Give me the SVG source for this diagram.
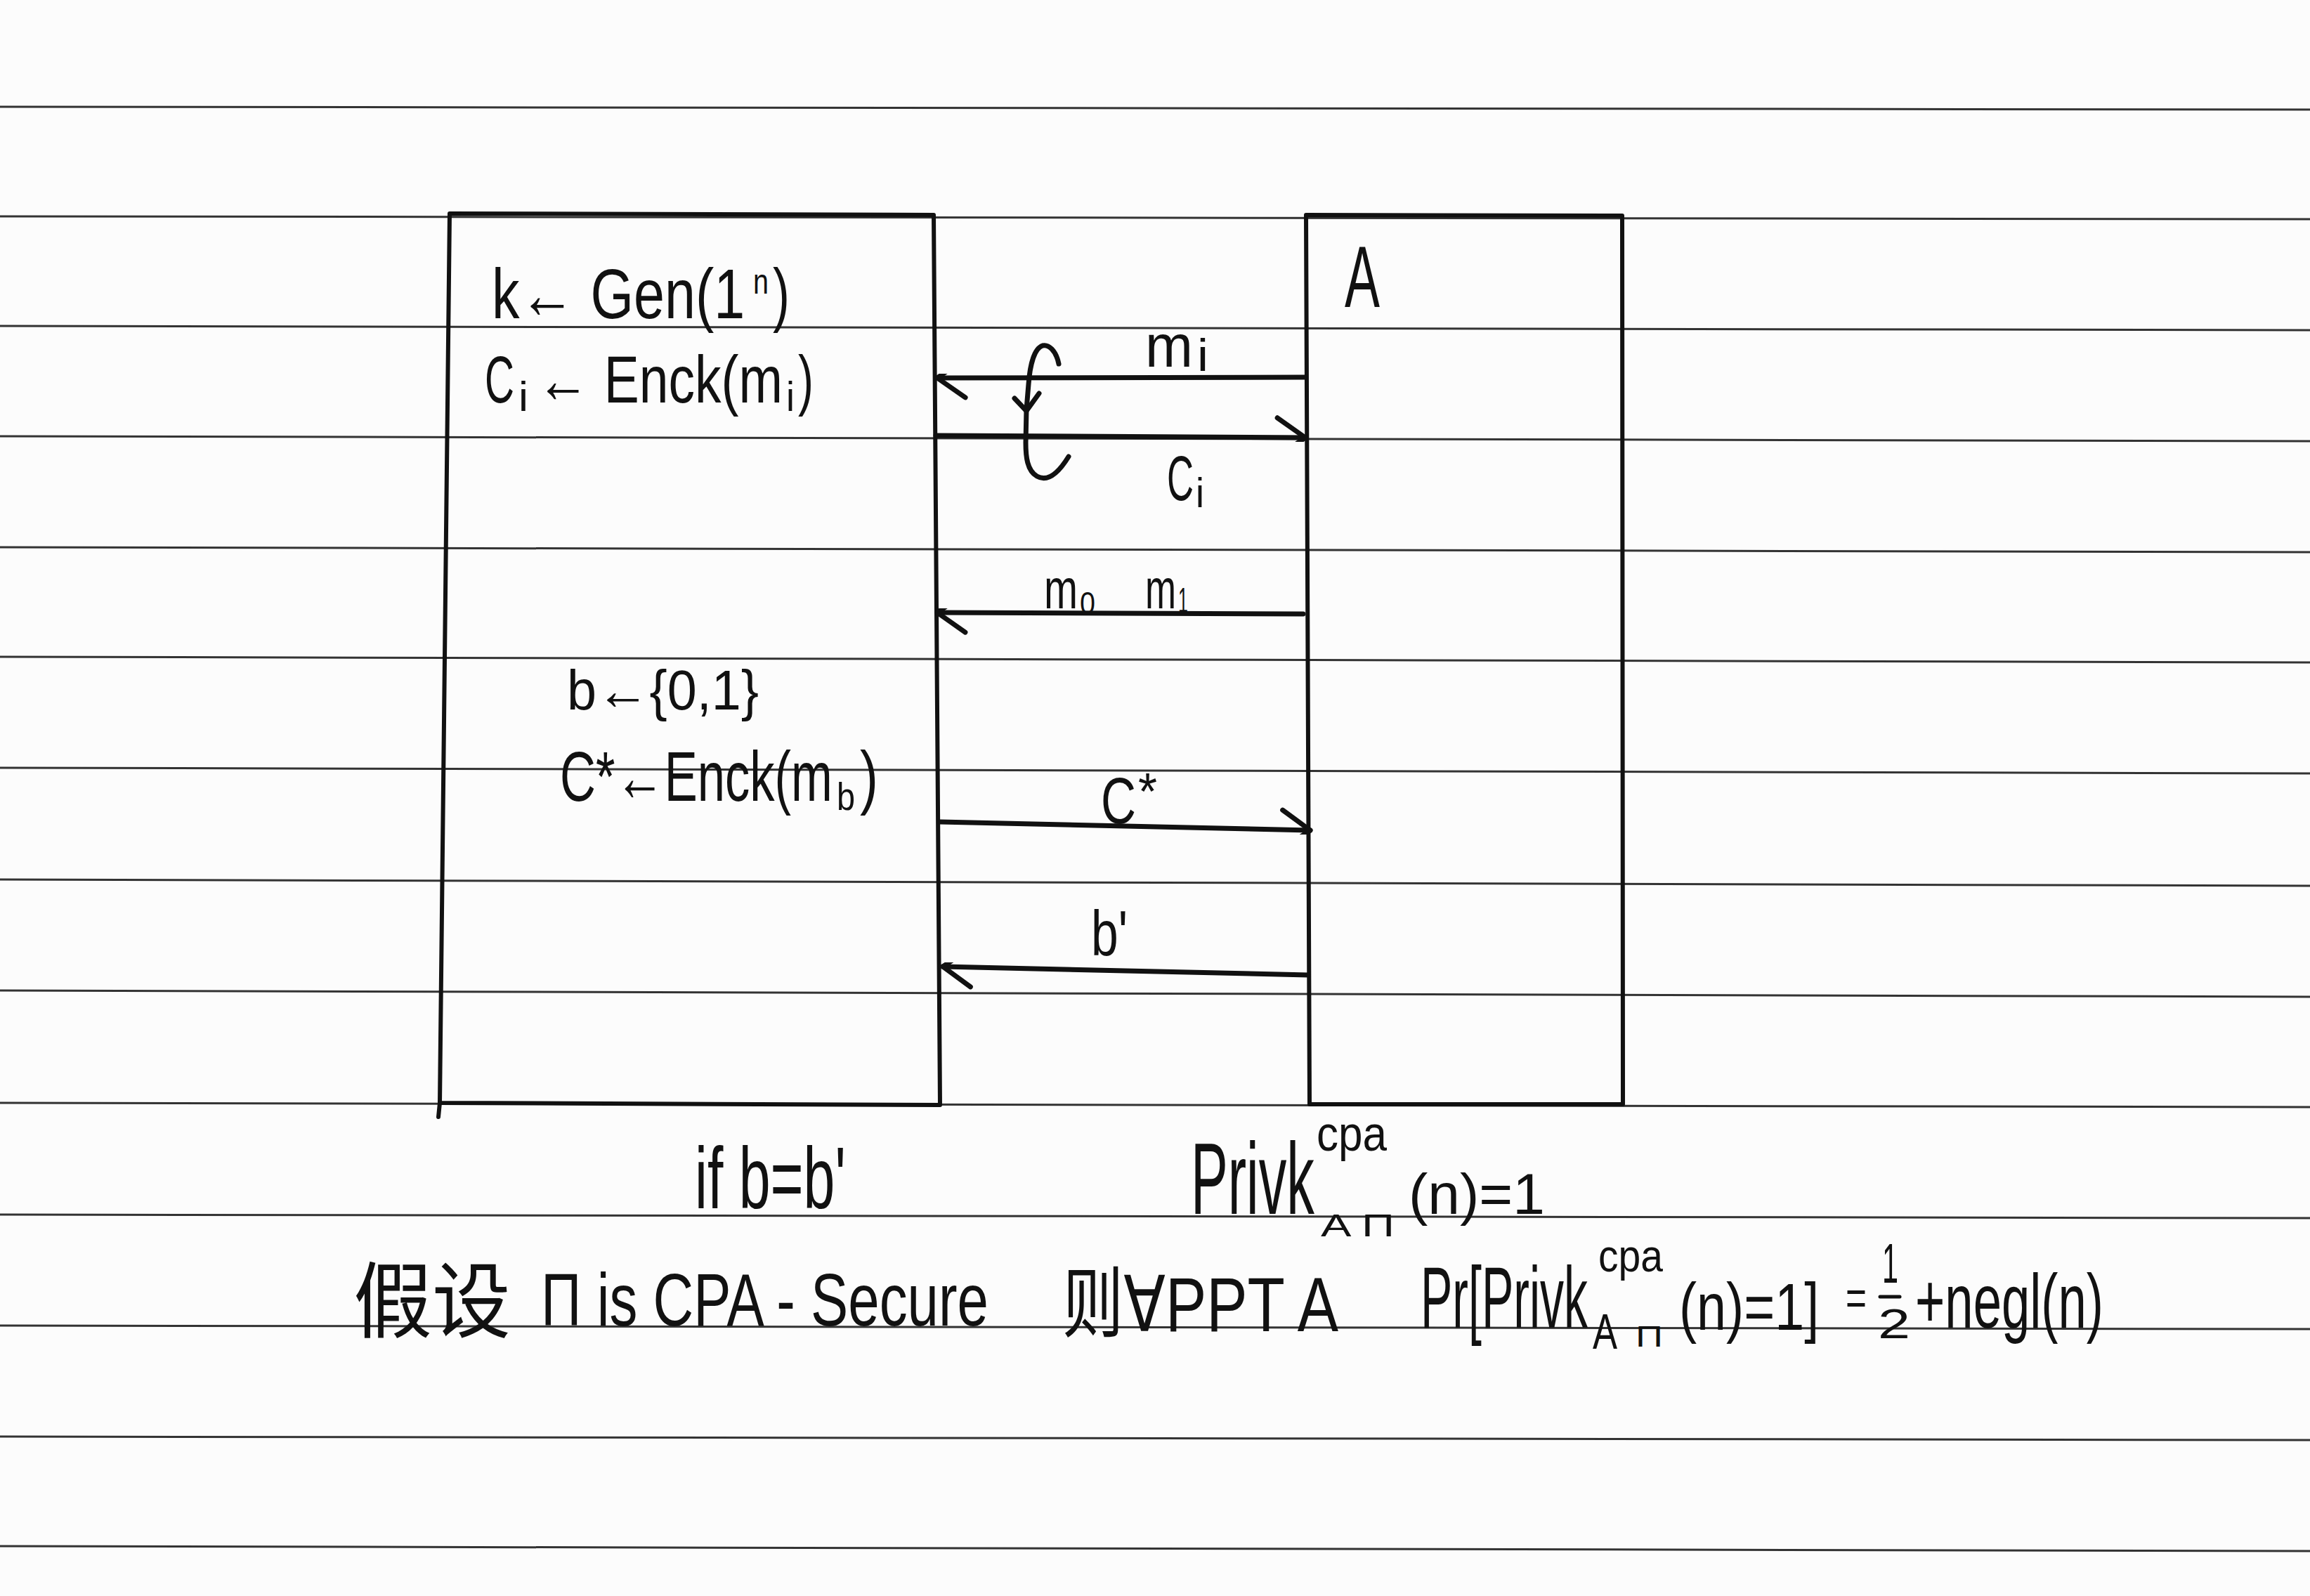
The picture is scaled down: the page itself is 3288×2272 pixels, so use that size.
<svg xmlns="http://www.w3.org/2000/svg" width="3288" height="2272" viewBox="0 0 3288 2272">
<defs>
<style>
.paper{stroke:#333;stroke-width:3;fill:none}
.box{stroke:#111;stroke-width:6;fill:none;stroke-linecap:round;stroke-linejoin:round}
.ink{stroke:#111;stroke-width:7;fill:none;stroke-linecap:round;stroke-linejoin:round}
.t{font-family:"Liberation Sans","DejaVu Sans","Noto Sans CJK SC",sans-serif;fill:#111}
.cjk{font-family:"Noto Sans CJK SC","Liberation Sans",sans-serif;fill:#111}
</style>
<marker id="ah" markerUnits="userSpaceOnUse" markerWidth="60" markerHeight="70" refX="2" refY="32" orient="auto" viewBox="-44 -32 60 70">
<path d="M-38,-28 L2,0 L-38,28" fill="none" stroke="#111" stroke-width="7" stroke-linecap="round" stroke-linejoin="round" transform="translate(0,32)"/>
</marker>
</defs>
<rect width="3288" height="2272" fill="#fcfcfc"/>
<g id="paper-lines">
<line class="paper" x1="0" y1="152" x2="3288" y2="156"/>
<line class="paper" x1="0" y1="308" x2="3288" y2="312"/>
<line class="paper" x1="0" y1="464" x2="3288" y2="470"/>
<line class="paper" x1="0" y1="621" x2="3288" y2="628"/>
<line class="paper" x1="0" y1="779" x2="3288" y2="786"/>
<line class="paper" x1="0" y1="935" x2="3288" y2="943"/>
<line class="paper" x1="0" y1="1093" x2="3288" y2="1101"/>
<line class="paper" x1="0" y1="1252" x2="3288" y2="1261"/>
<line class="paper" x1="0" y1="1410" x2="3288" y2="1419"/>
<line class="paper" x1="0" y1="1570" x2="3288" y2="1576"/>
<line class="paper" x1="0" y1="1729" x2="3288" y2="1734"/>
<line class="paper" x1="0" y1="1887" x2="3288" y2="1892"/>
<line class="paper" x1="0" y1="2045" x2="3288" y2="2050"/>
<line class="paper" x1="0" y1="2201" x2="3288" y2="2208"/>
</g>
<g id="challenger">
<path class="box" d="M640,304 L1329,306 L1338,1573 L626,1570 Z"/>
<path class="box" d="M626,1570 L624,1590"/>
<text class="t" font-size="100" transform="translate(700,453) scale(0.79,1)" textLength="456" lengthAdjust="spacingAndGlyphs">k← Gen(1</text>
<text class="t" font-size="50" transform="translate(1072,418) scale(0.8,1)" textLength="27.5" lengthAdjust="spacingAndGlyphs">n</text>
<text class="t" font-size="100" transform="translate(1100,453) scale(0.72,1)" textLength="33.3" lengthAdjust="spacingAndGlyphs">)</text>
<text class="t" font-size="95" transform="translate(690,573) scale(0.61,1)" textLength="68.9" lengthAdjust="spacingAndGlyphs">C</text>
<text class="t" x="738" y="585" font-size="60" textLength="14" lengthAdjust="spacingAndGlyphs">i</text>
<text class="t" font-size="95" transform="translate(764,573) scale(0.79,1)" textLength="443" lengthAdjust="spacingAndGlyphs">← Enck(m</text>
<text class="t" x="1119" y="585" font-size="60" textLength="12" lengthAdjust="spacingAndGlyphs">i</text>
<text class="t" font-size="95" transform="translate(1136,573) scale(0.7,1)" textLength="31.4" lengthAdjust="spacingAndGlyphs">)</text>
<text class="t" x="807" y="1010" font-size="80" textLength="273" lengthAdjust="spacingAndGlyphs">b←{0,1}</text>
<text class="t" font-size="100" transform="translate(797,1140) scale(0.705,1)" textLength="550" lengthAdjust="spacingAndGlyphs">C*←Enck(m</text>
<text class="t" font-size="55" transform="translate(1191,1153) scale(0.85,1)" textLength="30.6" lengthAdjust="spacingAndGlyphs">b</text>
<text class="t" font-size="100" transform="translate(1224,1140) scale(0.78,1)" textLength="33.3" lengthAdjust="spacingAndGlyphs">)</text>
</g>
<g id="adversary">
<path class="box" d="M1859,306 L2309,307 L2310,1572 L1864,1572 Z"/>
<text class="t" font-size="125" transform="translate(1914,437) scale(0.6,1)" textLength="83.3" lengthAdjust="spacingAndGlyphs">A</text>
</g>
<g id="connectors">
<path class="ink" d="M1858,537 L1334,538" marker-end="url(#ah)"/>
<path class="ink" d="M1332,620 L1858,623" marker-end="url(#ah)"/>
<path class="ink" d="M1507,518 C1503,498 1492,490 1484,492 C1472,496 1466,520 1464,547 L1461,583 L1460,630 C1460,650 1462,670 1476,678 C1490,686 1505,676 1521,650"/>
<path class="ink" d="M1444,567 L1461,585 L1479,560"/>
<path class="ink" d="M1855,874 L1334,872" marker-end="url(#ah)"/>
<path class="ink" d="M1338,1170 L1865,1182" marker-end="url(#ah)"/>
<path class="ink" d="M1862,1388 L1342,1376" marker-end="url(#ah)"/>
<text class="t" x="1630" y="522" font-size="85" textLength="68" lengthAdjust="spacingAndGlyphs">m</text>
<text class="t" x="1704" y="528" font-size="65" textLength="16" lengthAdjust="spacingAndGlyphs">i</text>
<text class="t" font-size="90" transform="translate(1661,712) scale(0.585,1)" textLength="65" lengthAdjust="spacingAndGlyphs">C</text>
<text class="t" x="1702" y="722" font-size="60" textLength="12" lengthAdjust="spacingAndGlyphs">i</text>
<text class="t" font-size="80" transform="translate(1486,866) scale(0.72,1)" textLength="66.7" lengthAdjust="spacingAndGlyphs">m</text>
<text class="t" font-size="45" transform="translate(1537,874) scale(0.88,1)" textLength="25" lengthAdjust="spacingAndGlyphs">0</text>
<text class="t" font-size="80" transform="translate(1630,866) scale(0.66,1)" textLength="66.7" lengthAdjust="spacingAndGlyphs">m</text>
<text class="t" font-size="50" transform="translate(1677,872) scale(0.5,1)" textLength="28" lengthAdjust="spacingAndGlyphs">1</text>
<text class="t" font-size="92" transform="translate(1567,1172) scale(0.75,1)" textLength="66.7" lengthAdjust="spacingAndGlyphs">C</text>
<text class="t" x="1620" y="1152" font-size="75" textLength="27" lengthAdjust="spacingAndGlyphs">*</text>
<text class="t" font-size="90" transform="translate(1553,1360) scale(0.77,1)" textLength="67.5" lengthAdjust="spacingAndGlyphs">b'</text>
</g>
<g id="result">
<text class="t" font-size="125" transform="translate(989,1720) scale(0.645,1)" textLength="333" lengthAdjust="spacingAndGlyphs">if b=b'</text>
<text class="t" font-size="145" transform="translate(1695,1728) scale(0.546,1)" textLength="322" lengthAdjust="spacingAndGlyphs">Privk</text>
<text class="t" x="1874" y="1638" font-size="70" textLength="100" lengthAdjust="spacingAndGlyphs">cpa</text>
<text class="t" x="1880" y="1760" font-size="45" textLength="105" lengthAdjust="spacingAndGlyphs">A Π</text>
<text class="t" x="2005" y="1728" font-size="82" textLength="194" lengthAdjust="spacingAndGlyphs">(n)=1</text>
</g>
<g id="definition">
<text class="cjk" x="503" y="1895" font-size="118" textLength="224" lengthAdjust="spacingAndGlyphs">假设</text>
<text class="t" font-size="105" transform="translate(770,1887) scale(0.732,1)" textLength="870" lengthAdjust="spacingAndGlyphs">Π is CPA - Secure</text>
<text class="t" font-size="110" transform="translate(1512,1895) scale(0.736,1)" textLength="534" lengthAdjust="spacingAndGlyphs">则∀PPT  A</text>
<text class="t" font-size="125" transform="translate(2022,1890) scale(0.544,1)" textLength="437.5" lengthAdjust="spacingAndGlyphs">Pr[Privk</text>
<text class="t" font-size="65" transform="translate(2275,1810) scale(0.88,1)" textLength="104.5" lengthAdjust="spacingAndGlyphs">cpa</text>
<text class="t" font-size="70" transform="translate(2267,1920) scale(0.75,1)" textLength="46.7" lengthAdjust="spacingAndGlyphs">A</text>
<text class="t" x="2328" y="1917" font-size="42" textLength="39" lengthAdjust="spacingAndGlyphs">Π</text>
<text class="t" font-size="95" transform="translate(2390,1893) scale(0.79,1)" textLength="252" lengthAdjust="spacingAndGlyphs">(n)=1]</text>
<text class="t" font-size="70" transform="translate(2627,1872) scale(0.73,1)" textLength="41" lengthAdjust="spacingAndGlyphs">=</text>
<text class="t" font-size="80" transform="translate(2679,1826) scale(0.5,1)" textLength="46" lengthAdjust="spacingAndGlyphs">1</text>
<line class="ink" x1="2676" y1="1846" x2="2704" y2="1846" style="stroke-width:5"/>
<text class="t" x="2673" y="1905" font-size="60" textLength="46" lengthAdjust="spacingAndGlyphs">2</text>
<text class="t" font-size="110" transform="translate(2726,1890) scale(0.66,1)" textLength="406" lengthAdjust="spacingAndGlyphs">+negl(n)</text>
</g>
</svg>
